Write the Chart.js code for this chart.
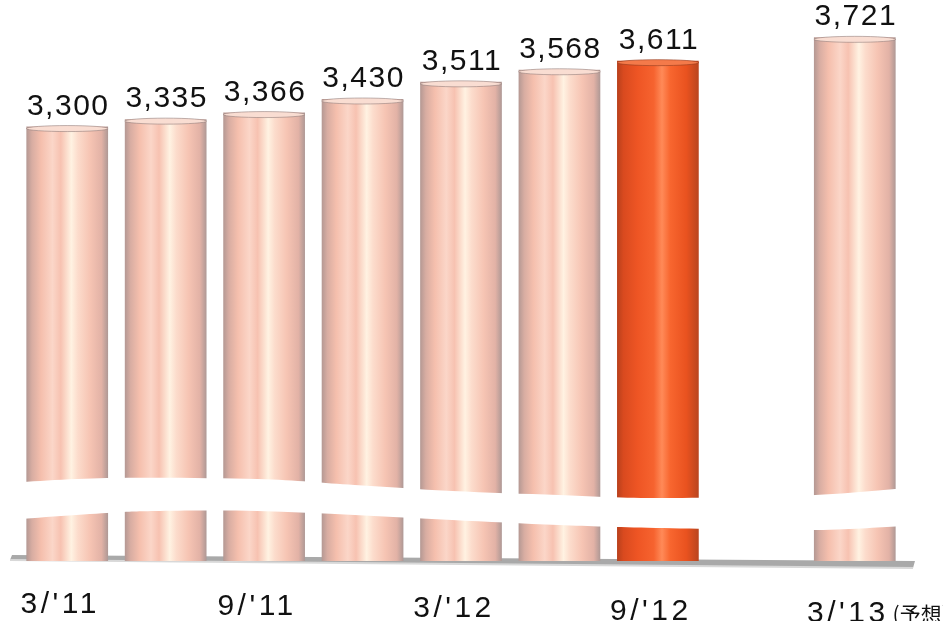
<!DOCTYPE html>
<html>
<head>
<meta charset="utf-8">
<script src="https://cdn.jsdelivr.net/npm/chart.js@4"></script>
<style>
html,body{margin:0;padding:0;background:#fff;}
#wrap{width:943px;height:621px;overflow:hidden;}
</style>
</head>
<body>
<div id="wrap"><canvas id="c" width="943" height="621"></canvas></div>
<script>
// ---- data ----
const categories = ["3/'11", "6/'11", "9/'11", "12/'11", "3/'12", "6/'12", "9/'12", "", "3/'13(予想)"];
const values = [3300, 3335, 3366, 3430, 3511, 3568, 3611, null, 3721];
const highlightIndex = 6;

// ---- style ----
const FONT = '"Liberation Sans", Arial, sans-serif';
const BAR_PCT = 0.83;

function cylGradient(ctx2d, x0, x1, hot) {
  const g = ctx2d.createLinearGradient(x0, 0, x1, 0);
  if (hot) {
    g.addColorStop(0.00, '#b8401c');
    g.addColorStop(0.08, '#d94a1f');
    g.addColorStop(0.25, '#ee5524');
    g.addColorStop(0.45, '#f6632f');
    g.addColorStop(0.55, '#ff8a58');
    g.addColorStop(0.65, '#f8662f');
    g.addColorStop(0.85, '#e9521f');
    g.addColorStop(1.00, '#b9451f');
  } else {
    g.addColorStop(0.00, '#b49893');
    g.addColorStop(0.07, '#d8ada2');
    g.addColorStop(0.18, '#f5bfad');
    g.addColorStop(0.32, '#fbd6c8');
    g.addColorStop(0.42, '#f7c2b1');
    g.addColorStop(0.55, '#fff2e2');
    g.addColorStop(0.63, '#fcdccc');
    g.addColorStop(0.78, '#f6c4b3');
    g.addColorStop(0.92, '#e2b2a6');
    g.addColorStop(1.00, '#ae9895');
  }
  return g;
}

// break band (relative to chart area: x fraction, y offset from bottom)
const bandTop = [[-0.03,-77],[0.10,-83],[0.27,-82],[0.38,-76],[0.49,-70],[0.61,-66],[0.72,-63],[0.90,-66],[1.05,-77]];
const bandBot = [[1.05,-36],[1.0,-35],[0.90,-31],[0.72,-33],[0.61,-36],[0.49,-41],[0.38,-46],[0.27,-50],[0.16,-50],[0.10,-48],[-0.03,-40]];

function smoothPath(ctx, pts, moveFirst) {
  if (moveFirst) ctx.moveTo(pts[0][0], pts[0][1]); else ctx.lineTo(pts[0][0], pts[0][1]);
  for (let i = 0; i < pts.length - 1; i++) {
    const p0 = pts[i - 1] || pts[i], p1 = pts[i], p2 = pts[i + 1], p3 = pts[i + 2] || pts[i + 1];
    const c1x = p1[0] + (p2[0] - p0[0]) / 6, c1y = p1[1] + (p2[1] - p0[1]) / 6;
    const c2x = p2[0] - (p3[0] - p1[0]) / 6, c2y = p2[1] - (p3[1] - p1[1]) / 6;
    ctx.bezierCurveTo(c1x, c1y, c2x, c2y, p2[0], p2[1]);
  }
}

const decorPlugin = {
  id: 'decor',
  beforeDatasetsDraw(chart) {
    const ctx = chart.ctx, ca = chart.chartArea;
    // floor platform
    ctx.save();
    ctx.beginPath();
    ctx.moveTo(ca.left - 6, ca.bottom - 6);
    ctx.lineTo(ca.right + 11, ca.bottom);
    ctx.lineTo(ca.right + 9, ca.bottom + 7);
    ctx.lineTo(ca.left - 8, ca.bottom - 1);
    ctx.closePath();
    ctx.fillStyle = '#a9a9a9';
    ctx.fill();
    ctx.beginPath();
    ctx.moveTo(ca.left - 8, ca.bottom - 1);
    ctx.lineTo(ca.right + 9, ca.bottom + 7);
    ctx.strokeStyle = '#d8d8d8';
    ctx.lineWidth = 2;
    ctx.stroke();
    ctx.restore();
  },
  afterDatasetsDraw(chart) {
    const ctx = chart.ctx, ca = chart.chartArea;
    const meta = chart.getDatasetMeta(0);
    // top caps
    meta.data.forEach((el, i) => {
      if (values[i] == null) return;
      const hot = i === highlightIndex;
      const rx = el.width / 2;
      ctx.save();
      ctx.beginPath();
      ctx.ellipse(el.x, el.y + 2, rx, 3, 0, 0, Math.PI * 2);
      ctx.fillStyle = hot ? '#f47a4a' : '#f9ddd2';
      ctx.fill();
      ctx.strokeStyle = hot ? 'rgba(150,60,30,0.6)' : 'rgba(140,120,118,0.55)';
      ctx.lineWidth = 1;
      ctx.stroke();
      ctx.restore();
    });
    // break band
    const toPx = p => [ca.left + p[0] * ca.width, ca.bottom + p[1]];
    ctx.save();
    ctx.beginPath();
    smoothPath(ctx, bandTop.map(toPx), true);
    smoothPath(ctx, bandBot.map(toPx), false);
    ctx.closePath();
    ctx.fillStyle = '#ffffff';
    ctx.fill();
    ctx.restore();
    // value labels
    ctx.save();
    ctx.font = '30px ' + FONT;
    ctx.letterSpacing = '1.5px';
    ctx.fillStyle = '#111';
    ctx.textAlign = 'center';
    ctx.textBaseline = 'alphabetic';
    meta.data.forEach((el, i) => {
      if (values[i] == null) return;
      ctx.fillText(values[i].toLocaleString('en-US'), el.x + 1, el.y - 12);
    });
    // category labels (every other)
    const xs = chart.scales.x;
    categories.forEach((lab, i) => {
      if (i % 2 !== 0 || !lab) return;
      const cx = xs.getPixelForValue(i) - 7;
      const base = ca.bottom + 51 + (cx - ca.left) * 0.012;
      const k = lab.indexOf('(');
      const main = k >= 0 ? lab.slice(0, k) : lab;
      const suffix = k >= 0 ? lab.slice(k) : '';
      ctx.font = '30px ' + FONT;
      ctx.letterSpacing = '3.5px';
      ctx.textAlign = 'center';
      ctx.fillText(main, cx, base);
      if (suffix) {
        const w = ctx.measureText(main).width;
        ctx.font = '21px "Noto Sans CJK JP", ' + FONT;
        ctx.letterSpacing = '0px';
        ctx.textAlign = 'left';
        ctx.fillText(suffix, cx + w / 2 + 4, base);
      }
    });
    ctx.restore();
  }
};

new Chart(document.getElementById('c'), {
  type: 'bar',
  data: {
    labels: categories,
    datasets: [{
      data: values,
      borderWidth: 0,
      barPercentage: BAR_PCT,
      categoryPercentage: 1,
      backgroundColor: (c) => {
        const chart = c.chart, ca = chart.chartArea;
        const hot = c.dataIndex === highlightIndex;
        if (!ca || !chart.scales.x) return hot ? '#f05a28' : '#f6c6b6';
        const cx = chart.scales.x.getPixelForValue(c.dataIndex);
        const half = ca.width / categories.length * BAR_PCT / 2;
        return cylGradient(chart.ctx, cx - half, cx + half, hot);
      }
    }]
  },
  options: {
    responsive: false,
    animation: false,
    devicePixelRatio: 1,
    layout: { padding: { left: 18, right: 39, top: 10, bottom: 60 } },
    scales: {
      x: { display: false },
      y: { display: false, min: 1250, max: 3850 }
    },
    plugins: { legend: { display: false }, tooltip: { enabled: false } }
  },
  plugins: [decorPlugin]
});
</script>
</body>
</html>
